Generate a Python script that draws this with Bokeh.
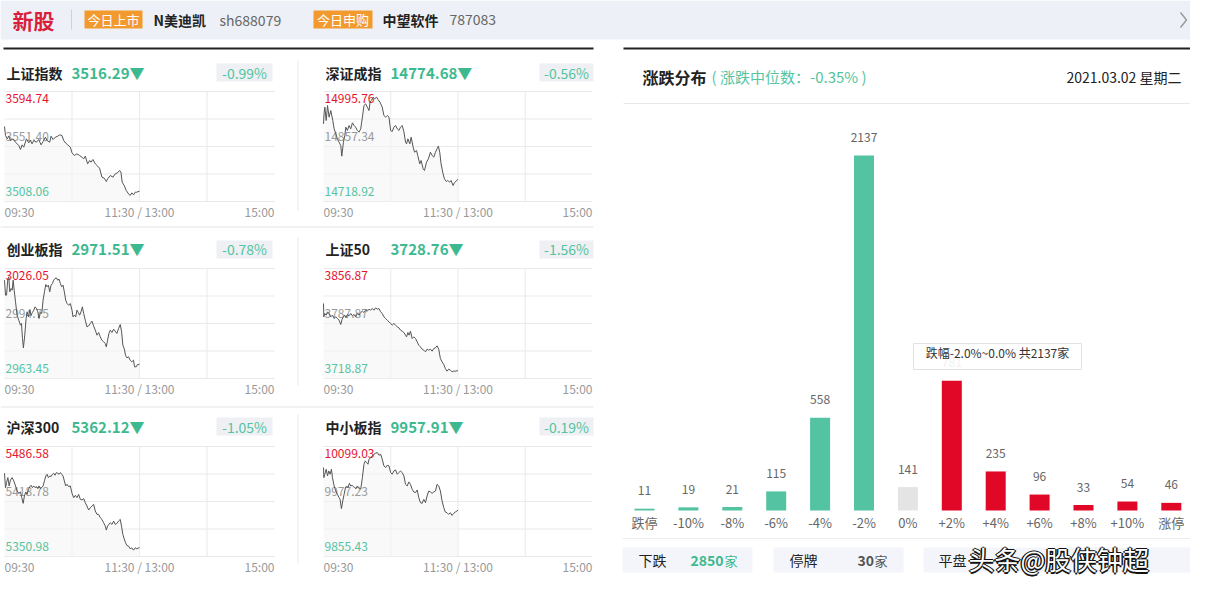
from bokeh.plotting import figure
from bokeh.models import Range1d
from bokeh.embed import file_html
from bokeh.resources import INLINE
from bokeh.core.properties import value

# ---------------- data ----------------
INDEX_NAMES = ["上证指数", "深证成指", "创业板指", "上证50", "沪深300", "中小板指"]
INDEX_LAST = ["3516.29", "14774.68", "2971.51", "3728.76", "5362.12", "9957.91"]
INDEX_PCT = ["-0.99%", "-0.56%", "-0.78%", "-1.56%", "-1.05%", "-0.19%"]
INDEX_HIGH = [3594.74, 14995.76, 3026.05, 3856.87, 5486.58, 10099.03]
INDEX_LOW = [3508.06, 14718.92, 2963.45, 3718.87, 5350.98, 9855.43]
TIME_TICKS = [0, 120, 240]
TIME_LABELS = ["09:30", "11:30 / 13:00", "15:00"]
TIME_GRID = [60, 120, 180]

SH_SERIES = [(0, 3567.16), (0.9, 3560.07), (2.4, 3557.44), (3.8, 3559.54), (5.3, 3556.13), (7.7, 3557.44),
             (9.8, 3554.81), (12.7, 3552.19), (14.2, 3549.04), (15.7, 3552.71), (17.1, 3550.87), (19.5, 3557.44),
             (21.6, 3554.29), (23.1, 3556.13), (24.5, 3553.50), (26.0, 3556.13), (28.4, 3554.81), (30.4, 3556.92),
             (32.5, 3552.71), (34.3, 3555.34), (36.4, 3558.75), (37.8, 3556.13), (40.2, 3554.81), (41.4, 3559.54),
             (43.2, 3556.92), (45.2, 3558.75), (47.3, 3559.54), (49.1, 3560.59), (51.1, 3560.07), (52.6, 3556.13),
             (54.1, 3554.29), (56.2, 3552.71), (58.5, 3550.87), (60.0, 3546.41), (62.1, 3544.31), (64.4, 3545.62),
             (66.8, 3544.31), (68.9, 3542.99), (70.4, 3541.68), (71.8, 3543.78), (73.9, 3537.74), (75.7, 3540.37),
             (76.9, 3539.05), (78.6, 3541.16), (80.7, 3537.74), (82.8, 3535.90), (84.5, 3534.33), (86.6, 3527.23),
             (88.7, 3526.45), (90.5, 3523.82), (91.6, 3525.92), (94.0, 3528.55), (96.4, 3527.23), (98.4, 3529.86),
             (100.5, 3530.65), (102.3, 3532.49), (103.5, 3531.17), (104.6, 3523.29), (106.4, 3520.67),
             (108.2, 3516.73), (110.3, 3514.10), (111.7, 3512.79), (113.2, 3514.89), (114.7, 3513.31),
             (116.2, 3515.41), (117.6, 3515.41), (120, 3516.29)]

SZ_SERIES = [(0, 14914.39), (0.6, 14943.75), (1.2, 14956.33), (2.4, 14922.77), (3.6, 14960.53), (5.0, 14931.16),
             (6.5, 14947.94), (8.3, 14922.77), (9.5, 14901.80), (11.0, 14889.22), (12.4, 14876.63), (13.9, 14868.25),
             (15.4, 14859.86), (16.3, 14833.01), (17.8, 14868.25), (19.0, 14885.02), (19.9, 14906.00),
             (21.3, 14897.61), (22.8, 14910.19), (24.3, 14901.80), (25.8, 14916.90), (27.3, 14910.19),
             (28.7, 14906.00), (30.2, 14897.61), (31.7, 14893.41), (33.2, 14901.80), (34.7, 14931.16),
             (36.1, 14960.53), (37.6, 14964.72), (39.1, 14956.33), (40.6, 14947.94), (41.5, 14968.91),
             (42.7, 14973.11), (44.4, 14981.50), (45.6, 14977.30), (47.4, 14981.50), (48.6, 14975.63),
             (50.4, 14968.91), (52.4, 14956.33), (53.9, 14935.36), (55.4, 14931.16), (56.9, 14935.36),
             (58.4, 14931.16), (59.9, 14897.61), (61.3, 14895.09), (62.8, 14906.00), (64.3, 14910.19),
             (65.8, 14901.80), (67.3, 14897.61), (68.7, 14906.00), (70.2, 14910.19), (71.7, 14895.09),
             (73.2, 14868.25), (74.1, 14864.05), (75.3, 14876.63), (77.0, 14864.05), (78.2, 14880.83),
             (80.0, 14855.66), (81.2, 14843.08), (83.0, 14847.27), (84.1, 14834.69), (85.9, 14813.72),
             (87.1, 14822.11), (88.9, 14801.13), (90.1, 14796.94), (91.9, 14817.91), (93.6, 14826.30),
             (95.4, 14843.08), (96.9, 14834.69), (98.4, 14830.49), (99.9, 14843.08), (101.3, 14851.47),
             (102.5, 14858.18), (103.7, 14843.08), (104.9, 14813.72), (106.7, 14788.55), (107.9, 14775.97),
             (109.6, 14769.25), (110.8, 14771.77), (112.6, 14767.58), (113.8, 14771.77), (115.6, 14759.19),
             (116.7, 14765.90), (120, 14774.68)]

CYB_SERIES = [(0, 3019.41), (0.9, 3010.87), (1.8, 3010.87), (3.0, 3020.36), (3.8, 3021.31), (4.7, 3012.77),
              (5.9, 3014.67), (6.8, 3013.72), (7.7, 3019.41), (8.6, 3013.72), (9.8, 3007.08), (11.2, 2999.49),
              (12.7, 2996.65), (14.2, 2993.80), (15.1, 2994.75), (16.0, 2986.21), (16.8, 2980.90), (18.0, 2988.11),
              (19.2, 2997.59), (20.1, 3001.39), (21.3, 2998.54), (22.5, 3002.34), (23.6, 2999.49), (24.8, 3001.01),
              (26.0, 3002.34), (27.2, 3004.23), (28.4, 3003.29), (29.6, 3001.39), (30.7, 2997.59), (31.9, 3001.01),
              (33.1, 3000.44), (34.3, 3008.03), (35.5, 3012.77), (36.7, 3016.94), (37.8, 3015.62), (39.0, 3016.56),
              (40.2, 3012.77), (41.4, 3016.56), (42.6, 3017.51), (43.7, 3019.41), (44.9, 3020.36), (46.1, 3020.74),
              (47.3, 3019.41), (48.5, 3019.98), (49.7, 3017.51), (50.8, 3015.62), (52.0, 3016.56), (53.2, 3012.77),
              (54.4, 3008.03), (55.6, 3006.13), (57.0, 3005.18), (58.5, 3006.13), (60.0, 3002.34), (60.9, 2998.54),
              (62.1, 2999.49), (63.3, 2998.54), (64.4, 3002.34), (65.6, 3001.01), (66.8, 2999.49), (68.0, 3001.39),
              (69.2, 3004.23), (70.4, 3000.44), (71.8, 2996.65), (73.3, 2992.85), (74.8, 2993.42), (76.3, 2994.75),
              (77.7, 2996.08), (79.2, 2993.42), (80.7, 2990.96), (82.2, 2988.11), (83.7, 2989.63), (85.1, 2987.16),
              (86.6, 2985.26), (88.1, 2984.32), (89.6, 2983.37), (90.5, 2981.47), (91.6, 2985.26), (92.8, 2989.06),
              (94.0, 2990.96), (95.5, 2989.63), (97.0, 2991.52), (98.4, 2990.39), (99.9, 2989.06), (101.4, 2991.90),
              (102.9, 2994.18), (104.1, 2990.01), (105.2, 2982.42), (106.4, 2980.52), (107.6, 2976.73),
              (108.8, 2975.21), (110.3, 2975.78), (111.7, 2973.88), (113.2, 2972.93), (114.7, 2973.88),
              (115.6, 2970.09), (117.1, 2970.09), (118.2, 2971.42), (120, 2971.51)]

SZ50_SERIES = [(0, 3812.96), (0.3, 3796.23), (1.2, 3800.42), (2.4, 3798.32), (3.6, 3802.51), (5.0, 3800.42),
               (6.5, 3796.23), (8.0, 3798.32), (9.5, 3794.14), (11.0, 3796.23), (12.4, 3794.14), (13.9, 3792.05),
               (15.4, 3786.62), (16.6, 3793.31), (17.8, 3796.23), (19.0, 3798.32), (20.1, 3794.98), (21.3, 3799.16),
               (22.8, 3797.49), (24.3, 3800.42), (25.8, 3797.49), (27.3, 3799.16), (28.7, 3796.23), (30.2, 3800.42),
               (31.7, 3798.32), (33.2, 3801.67), (34.7, 3803.34), (36.1, 3801.67), (37.6, 3804.60), (39.1, 3803.34),
               (40.6, 3805.85), (42.1, 3804.60), (43.6, 3806.69), (45.0, 3804.60), (46.5, 3807.52), (48.0, 3805.85),
               (49.5, 3806.69), (51.0, 3802.51), (52.4, 3800.42), (53.9, 3796.23), (55.4, 3794.14), (56.9, 3792.05),
               (58.4, 3789.96), (59.9, 3787.87), (61.3, 3785.78), (62.8, 3787.87), (64.3, 3785.78), (65.8, 3783.69),
               (67.3, 3782.43), (68.7, 3779.51), (70.2, 3778.25), (71.7, 3776.58), (73.2, 3773.23), (74.1, 3771.14),
               (75.3, 3776.58), (76.4, 3773.23), (77.6, 3778.25), (79.1, 3769.05), (80.6, 3771.14), (82.1, 3769.05),
               (83.6, 3764.87), (85.0, 3760.69), (86.5, 3758.60), (88.0, 3755.67), (89.5, 3754.42), (91.0, 3752.32),
               (92.4, 3755.67), (93.9, 3754.42), (95.4, 3755.67), (96.9, 3753.16), (98.4, 3756.51), (99.9, 3757.34),
               (101.3, 3759.85), (102.8, 3755.67), (104.3, 3743.96), (105.8, 3739.78), (107.3, 3736.43),
               (108.7, 3731.42), (110.2, 3728.07), (111.7, 3730.58), (113.2, 3729.33), (114.7, 3727.23),
               (116.1, 3728.07), (117.6, 3728.07), (120, 3728.76)]

HS300_SERIES = [(0, 5453.61), (0.9, 5435.88), (1.8, 5442.07), (3.0, 5448.25), (4.1, 5437.95), (5.3, 5445.36),
                (6.8, 5448.25), (8.3, 5444.13), (9.8, 5437.95), (11.2, 5431.76), (12.7, 5428.88), (14.2, 5430.53),
                (15.4, 5423.52), (16.6, 5416.51), (17.7, 5425.58), (18.9, 5430.53), (20.1, 5427.64), (21.3, 5433.82),
                (22.5, 5437.12), (23.6, 5438.77), (24.8, 5435.88), (26.0, 5437.95), (27.2, 5435.88), (28.4, 5437.12),
                (29.6, 5434.65), (30.7, 5437.95), (31.9, 5434.65), (33.1, 5435.88), (34.3, 5437.95), (35.5, 5444.13),
                (36.7, 5450.31), (37.8, 5452.37), (39.0, 5448.25), (40.2, 5450.31), (41.4, 5449.49), (42.6, 5452.37),
                (43.7, 5453.61), (44.9, 5451.13), (46.1, 5454.43), (47.3, 5453.61), (48.5, 5452.37), (49.7, 5454.43),
                (50.8, 5452.37), (52.0, 5450.31), (53.2, 5444.13), (54.4, 5437.95), (55.6, 5440.01), (57.0, 5437.12),
                (58.5, 5437.95), (60.0, 5428.88), (61.5, 5423.52), (63.0, 5426.40), (64.4, 5423.52), (65.9, 5427.64),
                (67.4, 5421.46), (68.9, 5420.63), (70.4, 5422.28), (71.8, 5417.34), (73.3, 5413.22), (74.8, 5408.27),
                (76.3, 5411.15), (77.7, 5413.22), (79.2, 5415.28), (80.7, 5407.03), (82.2, 5402.91), (83.7, 5402.91),
                (85.1, 5398.79), (86.6, 5396.73), (88.1, 5392.61), (89.6, 5388.49), (90.5, 5383.54), (91.6, 5388.49),
                (92.8, 5390.55), (94.0, 5392.61), (95.5, 5390.55), (97.0, 5394.67), (98.4, 5390.55), (99.9, 5391.78),
                (101.4, 5394.67), (102.9, 5396.73), (104.1, 5387.66), (105.2, 5378.18), (106.4, 5372.82),
                (107.6, 5367.88), (108.8, 5364.58), (110.3, 5363.76), (111.7, 5360.46), (113.2, 5361.70),
                (114.7, 5358.81), (116.2, 5361.70), (117.6, 5360.46), (120, 5362.12)]

ZXB_SERIES = [(0, 10052.38), (0.3, 10030.17), (1.2, 10037.57), (2.4, 10048.68), (3.6, 10033.87), (4.7, 10044.98),
              (5.9, 10037.57), (7.1, 10048.68), (8.0, 10030.17), (9.5, 10011.66), (11.0, 10000.55), (12.4, 9993.15),
              (13.9, 9985.74), (14.8, 9982.04), (16.0, 9961.31), (17.2, 9978.34), (18.4, 9993.15), (19.6, 10007.96),
              (20.7, 10011.66), (21.9, 10007.96), (23.1, 10017.58), (24.3, 10011.66), (25.5, 10013.14),
              (26.7, 10010.18), (27.9, 10007.96), (29.0, 10005.74), (30.2, 10011.66), (31.7, 10007.96),
              (33.2, 10004.25), (34.7, 10030.17), (36.1, 10059.79), (37.3, 10067.19), (38.5, 10063.49),
              (39.7, 10059.79), (40.6, 10070.89), (42.1, 10074.60), (43.6, 10078.30), (45.0, 10082.00),
              (46.5, 10084.22), (48.0, 10085.70), (49.5, 10079.78), (51.0, 10082.00), (52.4, 10070.89),
              (53.9, 10056.09), (55.4, 10052.38), (56.9, 10057.57), (58.4, 10056.09), (59.9, 10041.28),
              (61.3, 10037.57), (62.8, 10044.98), (64.3, 10047.20), (65.8, 10037.57), (67.3, 10041.28),
              (68.7, 10044.98), (70.2, 10041.28), (71.7, 10033.87), (73.2, 10015.36), (74.7, 10011.66),
              (76.1, 10020.54), (77.6, 10015.36), (79.1, 10004.25), (80.6, 9998.33), (82.1, 9996.85),
              (83.6, 10002.77), (85.0, 9985.74), (86.5, 9974.64), (88.0, 9973.16), (89.5, 9982.04), (91.0, 9974.64),
              (92.4, 9989.45), (93.9, 10000.55), (95.4, 9998.33), (96.9, 9995.37), (98.4, 9998.33), (99.9, 10000.55),
              (101.3, 10015.36), (102.8, 10011.66), (104.3, 10000.55), (105.8, 9978.34), (107.3, 9963.53),
              (108.7, 9953.91), (110.2, 9952.43), (111.7, 9948.72), (113.2, 9952.43), (114.7, 9946.50),
              (116.1, 9950.94), (117.6, 9953.91), (120, 9957.91)]

INDEX_SERIES = [SH_SERIES, SZ_SERIES, CYB_SERIES, SZ50_SERIES, HS300_SERIES, ZXB_SERIES]

BAR_CATEGORIES = ["跌停", "-10%", "-8%", "-6%", "-4%", "-2%", "0%", "+2%", "+4%", "+6%", "+8%", "+10%", "涨停"]
BAR_COUNTS = [11, 19, 21, 115, 558, 2137, 141, 781, 235, 96, 33, 54, 46]
BAR_SIDE = ["down"] * 6 + ["flat"] + ["up"] * 6
MEDIAN_PCT = "-0.35%"
TRADE_DATE = "2021.03.02 星期二"
DOWN_COUNT = "2850"
SUSPENDED_COUNT = "30"
HOVER_INDEX = 5
HOVER_RANGE = "跌幅-2.0%~0.0%"

NEW_LISTING = ("N美迪凯", "sh688079")
NEW_SUBSCRIPTION = ("中望软件", "787083")

# ---------------- styles ----------------
W, H = 1190, 579
FONT = value("Noto Sans CJK SC")
GREEN = "#3db98f"
GREEN_LIGHT = "#55c4a1"
RED = "#e5122e"
BAR_RED = "#e00727"
BAR_GREEN = "#53c3a2"
BAR_GRAY = "#e4e4e4"
SIDE_COLOR = {"down": BAR_GREEN, "flat": BAR_GRAY, "up": BAR_RED}

p = figure(width=W, height=H, x_range=Range1d(0, W), y_range=Range1d(H, 0),
           output_backend="svg", toolbar_location=None, tools="",
           x_axis_location=None, y_axis_location=None, min_border=0,
           outline_line_color=None, background_fill_color="white", border_fill_color="white")
p.grid.visible = False


def txt(x, y, s, size=12, color="#222", align="left", bold=False, xr="default", yr="default",
        xo=0, yo=0, alpha=1.0):
    p.text(x=[x], y=[y], text=[s], text_font=FONT, text_font_size=f"{size}px", text_color=color,
           text_align=align, text_baseline="middle", text_font_style="bold" if bold else "normal",
           x_range_name=xr, y_range_name=yr, x_offset=xo, y_offset=yo, text_alpha=alpha)


def box(l, r, t, b, color, line=None, alpha=1.0):
    p.quad(left=[l], right=[r], top=[t], bottom=[b], fill_color=color, fill_alpha=alpha,
           line_color=line, line_width=1)


def hline(x0, x1, y, color, width=1):
    p.segment(x0=[x0], x1=[x1], y0=[y], y1=[y], line_color=color, line_width=width)


def vline(x, y0, y1, color, width=1):
    p.segment(x0=[x], x1=[x], y0=[y0], y1=[y1], line_color=color, line_width=width)


# ---------------- header bar ----------------
box(0, W, 0, 39, "#edf0f7")
txt(12, 19, "新股", size=21, color="#d9203a", bold=True)
vline(71, 9, 29, "#cdd1d9")
box(84, 142, 10, 28, "#f29a2e")
txt(113, 19, "今日上市", size=13, color="white", align="center")
txt(153, 19, NEW_LISTING[0], size=14, color="#222", bold=True)
txt(219, 19, NEW_LISTING[1], size=14, color="#666")
box(313, 372, 10, 28, "#f29a2e")
txt(342.5, 19, "今日申购", size=13, color="white", align="center")
txt(382, 19, NEW_SUBSCRIPTION[0], size=14, color="#222", bold=True)
txt(449, 19, NEW_SUBSCRIPTION[1], size=14, color="#666")
p.line(x=[1180, 1186, 1180], y=[12, 19.5, 27], line_color="#9a9a9a", line_width=1.5)

# ---------------- left panel: six mini index charts ----------------
hline(3, 593, 48, "#222", 2)
hline(0, 593, 226.5, "#f1f1f1", 2)
hline(0, 593, 406.5, "#f1f1f1", 2)
for (y0, y1) in [(60, 210), (237, 385), (414, 563)]:
    vline(297.5, y0, y1, "#e8e8e8")

COLS = [dict(cl=4, cw=270, name_x=6, val_x=71, bl=216, br=272),
        dict(cl=323, cw=269, name_x=325, val_x=390, bl=539, br=593)]
ROWS = [dict(ty=72, ct=91, bt=63, bb=81),
        dict(ty=248, ct=268, bt=240, bb=258),
        dict(ty=426, ct=446, bt=417, bb=435)]
CH = 110

for i, pts in enumerate(INDEX_SERIES):
    col = COLS[i % 2]
    row = ROWS[i // 2]
    cl, cw, ct = col["cl"], col["cw"], row["ct"]
    hi, lo = INDEX_HIGH[i], INDEX_LOW[i]
    mid = (hi + lo) / 2.0
    xs = 240.0 / cw
    ys = (hi - lo) / CH
    xk, yk = f"t{i}", f"v{i}"
    p.extra_x_ranges[xk] = Range1d(-cl * xs, 240 + (W - cl - cw) * xs)
    p.extra_y_ranges[yk] = Range1d(lo - (H - ct - CH) * ys, hi + ct * ys)

    levels = [lo + k * (hi - lo) / 4.0 for k in range(5)]
    p.segment(x0=[TIME_TICKS[0]] * 5, x1=[TIME_TICKS[-1]] * 5, y0=levels, y1=levels,
              x_range_name=xk, y_range_name=yk, line_color="#e9e9e9", line_width=1)
    p.segment(x0=TIME_GRID, x1=TIME_GRID, y0=[lo] * 3, y1=[hi] * 3,
              x_range_name=xk, y_range_name=yk, line_color="#e9e9e9", line_width=1)

    t = [a for a, _ in pts]
    v = [b for _, b in pts]
    p.varea(x=t, y1=[lo] * len(t), y2=v, x_range_name=xk, y_range_name=yk,
            fill_color="#f5f5f5", fill_alpha=0.6)

    # level labels
    txt(cl + 1, ct + 7, f"{hi:.2f}", size=12, color=RED)
    txt(cl + 1, ct + CH / 2 - 10, f"{mid:.2f}", size=12, color="#9a9a9a")
    txt(cl + 1, ct + CH - 10, f"{lo:.2f}", size=12, color=GREEN_LIGHT)

    p.line(t, v, x_range_name=xk, y_range_name=yk, line_color="#555555", line_width=1)

    # time labels
    for tick, lab, al in zip(TIME_TICKS, TIME_LABELS, ["left", "center", "right"]):
        txt(tick, ct + CH + 10, lab, size=12, color="#999", align=al, xr=xk)

    # title row
    txt(col["name_x"], row["ty"], INDEX_NAMES[i], size=14, color="#222", bold=True)
    txt(col["val_x"], row["ty"], INDEX_LAST[i] + "▼", size=15, color=GREEN, bold=True)
    box(col["bl"], col["br"], row["bt"], row["bb"], "#eef0f4")
    txt((col["bl"] + col["br"]) / 2.0, row["ty"], INDEX_PCT[i], size=14, color=GREEN_LIGHT, align="center")

# ---------------- right panel: distribution bars ----------------
hline(623, W, 48, "#222", 2)
txt(642, 76, "涨跌分布", size=16, color="#222", bold=True)
txt(711, 76, "( 涨跌中位数：" + MEDIAN_PCT + " )", size=15, color=GREEN_LIGHT)
txt(1181, 76, TRADE_DATE, size=14, color="#222", align="right")
hline(623, W, 103, "#e8e8e8", 1)

c0, step = 644.0, 43.9
base_y, top_y = 510.0, 155.0
bx_s = 1.0 / step
p.extra_x_ranges["bx"] = Range1d(-c0 * bx_s, (W - c0) * bx_s)
by_s = BAR_COUNTS[HOVER_INDEX] / (base_y - top_y)
p.extra_y_ranges["by"] = Range1d(-(H - base_y) * by_s, base_y * by_s)

idx = list(range(len(BAR_CATEGORIES)))
colors = [SIDE_COLOR[s] for s in BAR_SIDE]
p.vbar(x=idx, top=BAR_COUNTS, bottom=0, width=20 * bx_s, fill_color=colors, line_color=None,
       x_range_name="bx", y_range_name="by")
p.text(x=idx, y=BAR_COUNTS, text=[str(c) for c in BAR_COUNTS], text_font=FONT, text_font_size="12px",
       text_color="#666", text_align="center", text_baseline="middle", y_offset=-18,
       x_range_name="bx", y_range_name="by")
p.text(x=idx, y=[522] * len(idx), text=BAR_CATEGORIES, text_font=FONT, text_font_size="13px",
       text_color="#666", text_align="center", text_baseline="middle", x_range_name="bx")

# tooltip
box(913, 1081, 343, 369, "white", line="#e2e2e2", alpha=0.9)
txt(997, 352, HOVER_RANGE + " 共" + str(BAR_COUNTS[HOVER_INDEX]) + "家", size=12, color="#333", align="center")

hline(622, W, 538, "#ececec", 1)

# stats row
box(622, 752, 547, 572, "#f3f5fa")
txt(638, 559.5, "下跌", size=14, color="#222")
txt(690, 559.5, DOWN_COUNT, size=14, color=GREEN, bold=True)
txt(724, 560, "家", size=13, color=GREEN)
box(773, 903, 547, 572, "#f3f5fa")
txt(789, 559.5, "停牌", size=14, color="#222")
txt(857, 559.5, SUSPENDED_COUNT, size=14, color="#555", bold=True)
txt(874, 560, "家", size=13, color="#555")
box(923, W, 547, 572, "#f3f5fa")
txt(938, 559.5, "平盘", size=14, color="#222")

# watermark (white text with a dark outline)
for dx, dy in [(-1.5, 0), (1.5, 0), (0, -1.5), (0, 1.5)]:
    txt(968, 558, "头条@股侠钟超", size=26, color="#111", xo=dx, yo=dy)
txt(968, 558, "头条@股侠钟超", size=26, color="white")

open("out.html", "w").write(file_html(p, INLINE))
